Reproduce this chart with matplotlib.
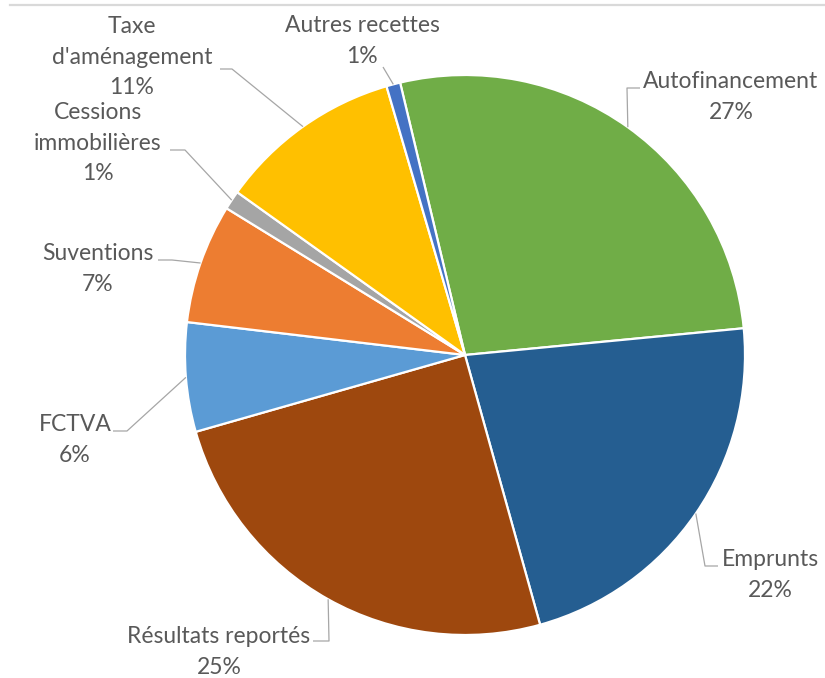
import numpy as np
import matplotlib.pyplot as plt
from matplotlib.lines import Line2D

# data
categories = ['Autofinancement', 'Emprunts', 'Résultats reportés', 'FCTVA',
              'Suventions', 'Cessions\nimmobilières', "Taxe\nd'aménagement",
              'Autres recettes']
values = [27.2, 22.2, 24.9, 6.3, 6.9, 1.1, 10.6, 0.8]
colors = ['#70AD47', '#255E91', '#9E480E', '#5B9BD5',
          '#ED7D31', '#A5A5A5', '#FFC000', '#4472C4']

# layout in pixel coords (y from top)
W, H = 825, 678
cx, cy, r = 465, 355, 280
# label centre, elbow point of leader line, end of horizontal stub
label_pos = [(731, 97), (770, 575), (219, 652), (75, 440),
             (98, 269), (98, 143), (132, 57), (362, 41)]
elbows = [(627, 88), (705, 566), (329, 641), (127, 431),
          (172, 260), (185, 150), (232, 69), None]
stubs = [(640, 88), (718, 566), (313, 641), (113, 431),
         (158, 260), (170, 150), (220, 69), (383, 67)]

plt.rcParams['font.family'] = ['Lato', 'DejaVu Sans']
fig = plt.figure(figsize=(W / 100, H / 100), dpi=100)
ax = fig.add_axes([0, 0, 1, 1])

wedges, _ = ax.pie(values, colors=colors, startangle=103.4, counterclock=False,
                   center=(cx, H - cy), radius=r,
                   wedgeprops=dict(edgecolor='white', linewidth=1.6))
ax.set_xlim(0, W)
ax.set_ylim(0, H)
ax.set_aspect('equal')
ax.axis('off')

for i, w in enumerate(wedges):
    mid = np.deg2rad((w.theta1 + w.theta2) / 2)
    px, py = cx + r * np.cos(mid), (H - cy) + r * np.sin(mid)
    pts = [(px, py)]
    if elbows[i] is not None:
        pts.append((elbows[i][0], H - elbows[i][1]))
    pts.append((stubs[i][0], H - stubs[i][1]))
    xs, ys = zip(*pts)
    ax.plot(xs, ys, color='#A6A6A6', lw=0.9, solid_capstyle='butt')
    lx, ly = label_pos[i]
    ax.text(lx, H - ly, f'{categories[i]}\n{round(values[i])}%',
            ha='center', va='center', multialignment='center',
            fontsize=16.5, color='#595959', linespacing=1.55)

fig.add_artist(Line2D([10 / W, 1], [1 - 4.5 / H] * 2, color='#D9D9D9', lw=1.6))

plt.savefig('out.png', dpi=100)
